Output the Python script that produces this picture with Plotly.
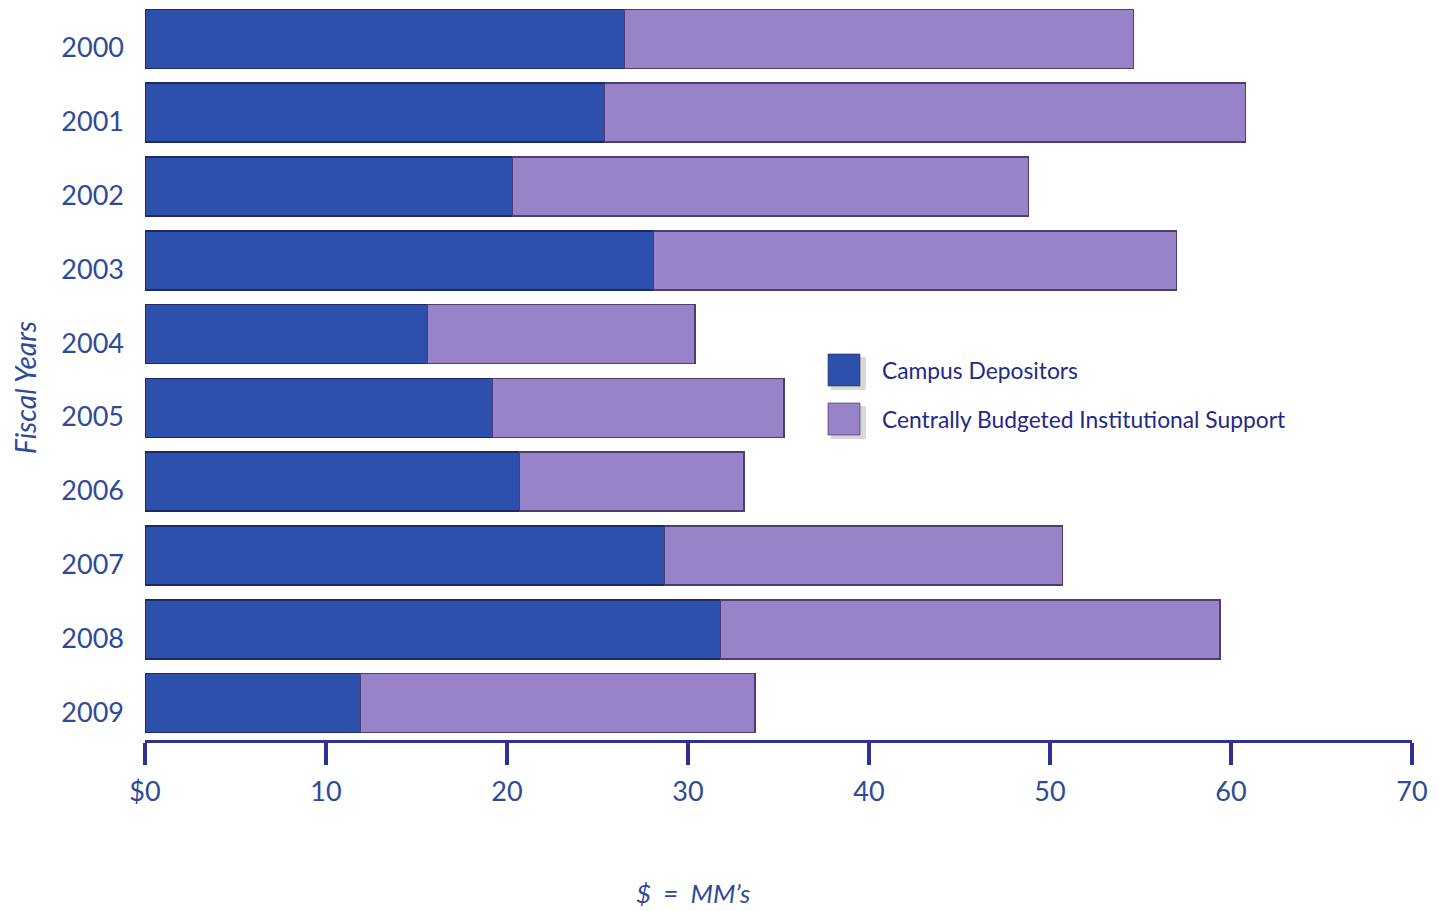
import plotly.graph_objects as go

years = ["2000", "2001", "2002", "2003", "2004", "2005", "2006", "2007", "2008", "2009"]
campus = [26.5, 25.4, 20.3, 28.1, 15.6, 19.2, 20.7, 28.7, 31.8, 11.9]
central = [28.1, 35.4, 28.5, 28.9, 14.8, 16.1, 12.4, 22.0, 27.6, 21.8]
series_names = ["Campus Depositors", "Centrally Budgeted Institutional Support"]
x_ticks = [0, 10, 20, 30, 40, 50, 60, 70]
x_ticktext = ["$0", "10", "20", "30", "40", "50", "60", "70"]

BLUE = "#2d50ad"
PURPLE = "#9883c8"
NAVY = "#2e3192"
LABEL = "#2e4a9a"
FONT = "Lato, 'Open Sans', sans-serif"

fig = go.Figure()
fig.add_trace(go.Bar(y=years, x=campus, orientation="h", name=series_names[0],
                     marker=dict(color=BLUE, line=dict(color="#1c2a63", width=1.5)),
                     showlegend=False))
fig.add_trace(go.Bar(y=years, x=central, orientation="h", name=series_names[1],
                     marker=dict(color=PURPLE, line=dict(color="#4a3f6e", width=1.5)),
                     showlegend=False))

# custom legend
legend_items = [(series_names[0], BLUE, 370), (series_names[1], PURPLE, 419)]
for name, col, yc in legend_items:
    fig.add_shape(type="rect", xref="paper", yref="paper",
                  x0=(831 - 145) / 1267, x1=(866 - 145) / 1267,
                  y0=(740 - (yc + 20)) / 738, y1=(740 - (yc - 13)) / 738,
                  fillcolor="rgba(0,0,0,0.15)", line=dict(width=0), layer="above")
    fig.add_shape(type="rect", xref="paper", yref="paper",
                  x0=(828 - 145) / 1267, x1=(860 - 145) / 1267,
                  y0=(740 - (yc + 16)) / 738, y1=(740 - (yc - 16)) / 738,
                  fillcolor=col, line=dict(color="rgba(40,40,80,0.6)", width=1), layer="above")
    fig.add_annotation(xref="paper", yref="paper",
                       x=(880 - 145) / 1267, y=(740 - yc) / 738,
                       text=name, showarrow=False, xanchor="left", yanchor="middle",
                       font=dict(family=FONT, size=22.8, color="#1f2a8a"))

fig.add_annotation(xref="paper", yref="paper", x=(25 - 145) / 1267, y=(740 - 388) / 738,
                   text="<i>Fiscal Years</i>", textangle=-90, showarrow=False,
                   xanchor="center", yanchor="middle",
                   font=dict(family=FONT, size=28, color=LABEL))
fig.add_annotation(xref="paper", yref="paper", x=(693 - 145) / 1267, y=(740 - 893) / 738,
                   text="<i>$ \u00a0=\u00a0 MM\u2019s</i>", showarrow=False,
                   xanchor="center", yanchor="middle",
                   font=dict(family=FONT, size=26, color=LABEL))

fig.update_layout(
    barmode="stack",
    bargap=0.2,
    width=1439, height=911,
    margin=dict(l=145, r=27, t=2, b=171),
    plot_bgcolor="white", paper_bgcolor="white",
    font=dict(family=FONT, color=LABEL),
    xaxis=dict(range=[0, 70], tickvals=x_ticks, ticktext=x_ticktext,
               showgrid=False, zeroline=False,
               showline=True, linecolor=NAVY, linewidth=3,
               ticks="outside", ticklen=22, tickwidth=4, tickcolor=NAVY,
               tickfont=dict(family=FONT, size=27, color=LABEL),
               ticklabelstandoff=4),
    yaxis=dict(autorange="reversed", showgrid=False, zeroline=False, showline=False,
               ticks="", tickfont=dict(family=FONT, size=27, color=LABEL),
               ticklabelstandoff=20, ticklabelshift=-9),
)

fig.write_html("out.html")
